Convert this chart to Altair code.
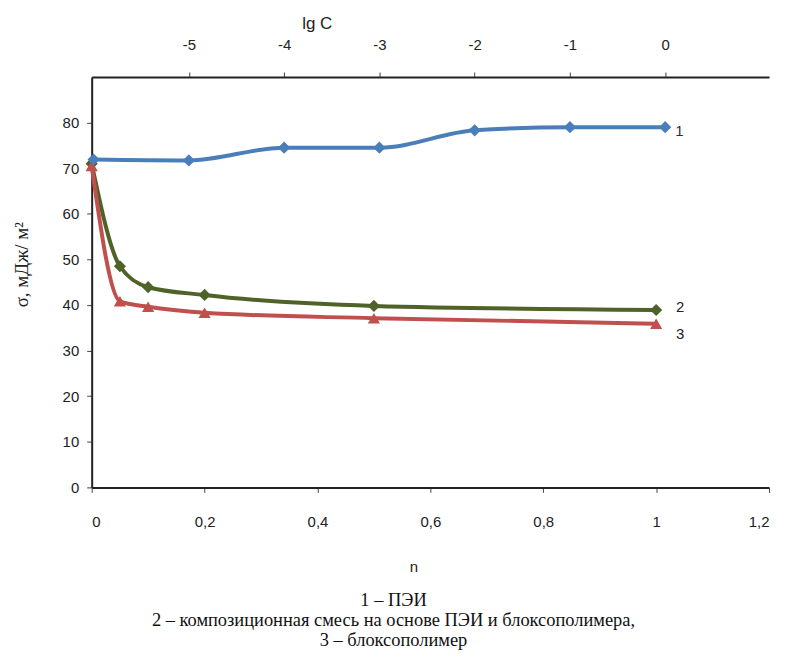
import altair as alt
import pandas as pd

# Series 1 (ПЭИ) plotted against top axis lg C
lgc_1 = [-6, -5, -4, -3, -2, -1, 0]
sigma_1 = [71.9, 71.7, 74.5, 74.5, 78.3, 79.0, 79.0]

# Series 2 and 3 plotted against bottom axis n
n_2 = [0, 0.05, 0.1, 0.2, 0.5, 1.0]
sigma_2 = [71.0, 48.5, 43.9, 42.2, 39.8, 38.9]
n_3 = [0, 0.05, 0.1, 0.2, 0.5, 1.0]
sigma_3 = [70.5, 40.8, 39.6, 38.3, 37.1, 35.9]

series_labels = ["1", "2", "3"]
caption_lines = [
    "1 – ПЭИ",
    "2 – композиционная смесь на основе ПЭИ и блоксополимера,",
    "3 – блоксополимер",
]

y_title = "σ, мДж/ м²"
top_title = "lg C"
bottom_title = "n"

BLUE = "#4A7EBB"
GREEN = "#4F6228"
RED = "#C0504D"
LBL = "Liberation Sans"

df1 = pd.DataFrame({"lgC": lgc_1, "sigma": sigma_1, "s": "1"})
df23 = pd.concat([
    pd.DataFrame({"n": n_2, "sigma": sigma_2, "s": "2"}),
    pd.DataFrame({"n": n_3, "sigma": sigma_3, "s": "3"}),
])

y_enc = alt.Y(
    "sigma:Q",
    scale=alt.Scale(domain=[0, 90], nice=False, zero=True),
    axis=alt.Axis(values=[0, 10, 20, 30, 40, 50, 60, 70, 80], title=y_title,
                  titleFont="Liberation Serif", titleFontSize=19, titleFontWeight="normal",
                  titleX=-70, titleY=188, titleAngle=-90, titleAlign="center",
                  titleBaseline="middle",
                  labelFont=LBL, labelFontSize=15, labelPadding=8, tickSize=5,
                  grid=False),
)

# top axis layer
x_top = alt.X(
    "lgC:Q",
    scale=alt.Scale(domain=[-6.02, 1.09], nice=False, zero=False),
    axis=alt.Axis(orient="top", values=[-5, -4, -3, -2, -1, 0], title=top_title,
                  titleFont=LBL, titleFontSize=17, titleFontWeight="normal",
                  titleX=226, titleY=-54, titleBaseline="middle", titleAlign="center",
                  labelFont=LBL, labelFontSize=15, labelPadding=20, tickSize=5,
                  grid=False, labelExpr="toString(datum.value)"),
)
base1 = alt.Chart(df1).encode(x=x_top, y=y_enc)
line1 = base1.mark_line(color=BLUE, strokeWidth=4, interpolate="monotone")
pts1 = base1.mark_point(shape="diamond", filled=True, color=BLUE, size=150, opacity=1)
lab1 = alt.Chart(df1[df1.lgC == 0].assign(lbl=series_labels[0])).mark_text(
    align="left", baseline="middle", dx=10, dy=4, font=LBL, fontSize=15, color="#3b2b2b"
).encode(x=x_top, y=y_enc, text="lbl:N")
top_layer = alt.layer(line1, pts1, lab1)

# bottom axis layer
x_bot = alt.X(
    "n:Q",
    scale=alt.Scale(domain=[0, 1.2], nice=False, zero=True),
    axis=alt.Axis(orient="bottom", values=[0, 0.2, 0.4, 0.6, 0.8, 1.0, 1.2],
                  labelExpr="replace(format(datum.value, '.1~f'), '.', ',')",
                  title=bottom_title, titleFont=LBL, titleFontSize=15, titleFontWeight="normal",
                  titleX=323, titleY=79, titleBaseline="middle", titleAlign="center",
                  labelFont=LBL, labelFontSize=15, labelPadding=22, tickSize=5,
                  grid=False),
)
color_sc = alt.Scale(domain=["2", "3"], range=[GREEN, RED])
shape_sc = alt.Scale(domain=["2", "3"], range=["diamond", "triangle-up"])
base23 = alt.Chart(df23).encode(x=x_bot, y=y_enc,
                                color=alt.Color("s:N", scale=color_sc, legend=None))
line23 = base23.mark_line(strokeWidth=4, interpolate="monotone").encode(detail="s:N")
pts23 = base23.mark_point(filled=True, size=150, opacity=1).encode(
    shape=alt.Shape("s:N", scale=shape_sc, legend=None))

last = df23[df23.n == 1.0].copy()
last["lbl"] = series_labels[1:]
lab2 = alt.Chart(last[last.s == "2"]).mark_text(
    align="left", baseline="middle", dx=20, dy=-3, font=LBL, fontSize=15, color="#222"
).encode(x=x_bot, y=y_enc, text="lbl:N")
lab3 = alt.Chart(last[last.s == "3"]).mark_text(
    align="left", baseline="middle", dx=20, dy=10, font=LBL, fontSize=15, color="#222"
).encode(x=x_bot, y=y_enc, text="lbl:N")
bottom_layer = alt.layer(line23, pts23, lab2, lab3)

# caption
cap_layers = [
    alt.Chart(pd.DataFrame({"t": [caption_lines[k]]})).mark_text(
        font="Liberation Serif", fontSize=18.5, align="center", baseline="middle", color="#111"
    ).encode(x=alt.value(303), y=alt.value(yy), text="t:N")
    for k, yy in enumerate([525, 545, 565])
]

chart = alt.layer(bottom_layer, top_layer, *cap_layers).resolve_scale(
    x="independent"
).properties(
    width=680, height=412,
    autosize=alt.AutoSizeParams(type="none"),
    padding={"left": 84, "top": 68, "right": 10, "bottom": 165},
).configure_view(stroke=None).configure_axis(
    domainColor="#222", domainWidth=2, tickColor="#444", labelColor="#222",
    titleColor="#222",
)

chart.save("out.html", embed_options={"renderer": "svg", "actions": False})
